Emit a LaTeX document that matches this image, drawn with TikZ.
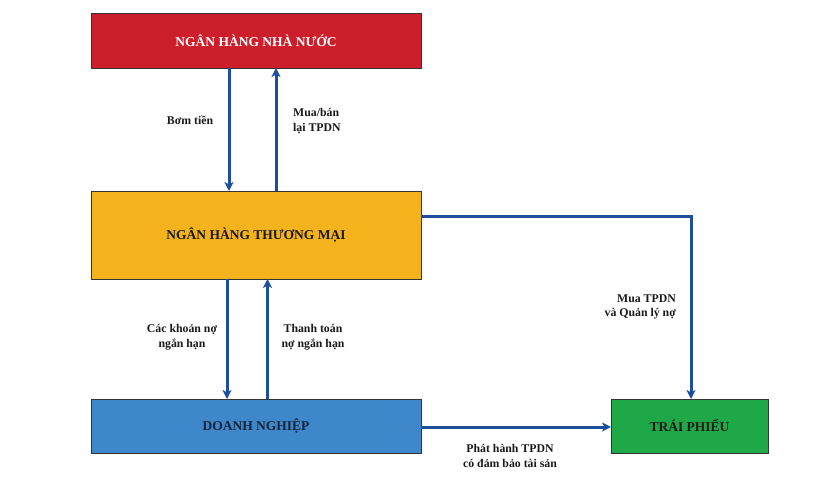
\documentclass[tikz,border=0pt]{standalone}
\usepackage{fontspec}
\setmainfont{Liberation Serif}
\usetikzlibrary{arrows.meta,positioning}
\definecolor{redbox}{HTML}{CC1F2B}
\definecolor{yellowbox}{HTML}{F4B21C}
\definecolor{bluebox}{HTML}{3F87CB}
\definecolor{greenbox}{HTML}{1EA848}
\definecolor{arrowblue}{HTML}{1E4F9C}
\definecolor{darktext}{HTML}{1A1A1A}
\definecolor{navytext}{HTML}{14243A}
\definecolor{boxline}{HTML}{333333}
\tikzset{
  box/.style={draw=boxline, line width=0.9pt, inner sep=0pt, font=\fontsize{13.5}{15}\selectfont\bfseries},
  flow/.style={draw=arrowblue, line width=3pt, -{Stealth[length=9pt,width=9pt,inset=2.5pt]}},
  lbl/.style={font=\fontsize{11.8}{14.5}\selectfont\bfseries, text=darktext, align=center, inner sep=0pt},
}
\begin{document}
\begin{tikzpicture}[x=1pt,y=-1pt]
\useasboundingbox (0,0) rectangle (840,479);
\fill[white] (0,0) rectangle (840,479);
% boxes
\node[box, fill=redbox, text=white, minimum width=330pt, minimum height=55pt] (nhnn) at (256,41) {NGÂN HÀNG NHÀ NƯỚC};
\node[box, fill=yellowbox, text=darktext, minimum width=330pt, minimum height=88pt] (nhtm) at (256,235) {NGÂN HÀNG THƯƠNG MẠI};
\node[box, fill=bluebox, text=navytext, minimum width=330pt, minimum height=54pt] (dn) at (256,426) {DOANH NGHIỆP};
\node[box, fill=greenbox, text=darktext, minimum width=157pt, minimum height=54pt] (tp) at (689.5,426) {TRÁI PHIẾU};
% coordinates
\coordinate (a1s) at (229,68); \coordinate (a1e) at (229,191);
\coordinate (a2s) at (276,191); \coordinate (a2e) at (276,68);
\coordinate (a3s) at (227,279); \coordinate (a3e) at (227,399);
\coordinate (a4s) at (267.5,399); \coordinate (a4e) at (267.5,279);
\coordinate (a5s) at (421,216); \coordinate (a5c) at (691,216); \coordinate (a5e) at (691,399);
\coordinate (a6s) at (421,427); \coordinate (a6e) at (611,427);
% arrows
\draw[flow] (a1s) -- (a1e);
\draw[flow] (a2s) -- (a2e);
\draw[flow] (a3s) -- (a3e);
\draw[flow] (a4s) -- (a4e);
\draw[flow] (a5s) -- (a5c) -- (a5e);
\draw[flow] (a6s) -- (a6e);
% labels
\node[lbl] (l1) at (190,120) {Bơm tiền};
\node[lbl, anchor=west, align=left] (l2) at (293,121) {Mua/bán\\lại TPDN};
\node[lbl] (l3) at (182,337) {Các khoản nợ\\ngắn hạn};
\node[lbl] (l4) at (313,337) {Thanh toán\\nợ ngắn hạn};
\node[lbl, anchor=east, align=right] (l5) at (676,307) {Mua TPDN\\và Quản lý nợ};
\node[lbl] (l6) at (510,456) {Phát hành TPDN\\có đảm bảo tài sản};
\end{tikzpicture}
\end{document}
